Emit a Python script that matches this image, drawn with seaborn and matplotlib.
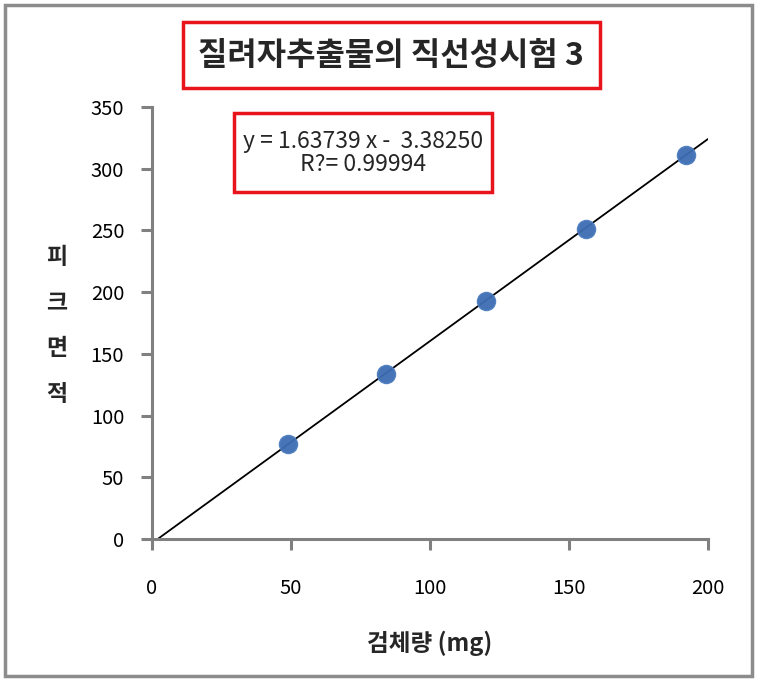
import numpy as np
import pandas as pd
import matplotlib
matplotlib.use("Agg")
import matplotlib.pyplot as plt
from matplotlib.patches import Rectangle
import seaborn as sns

sns.set_style("white")
plt.rcParams['font.family'] = ['Noto Sans CJK KR', 'DejaVu Sans']

# Data
sample_mg = [49, 84, 120, 156, 192]
peak_area = [77, 134, 193, 251, 311]
slope = 1.63739
intercept = -3.38250
r2 = 0.99994
x_ticks = [0, 50, 100, 150, 200]
y_ticks = [0, 50, 100, 150, 200, 250, 300, 350]
title = "질려자추출물의 직선성시험 3"
xlabel = "검체량 (mg)"
ylabel = "피\n크\n면\n적"

df = pd.DataFrame({"x": sample_mg, "y": peak_area})
x0 = -intercept / slope
line_df = pd.DataFrame({"x": [x0, 200], "y": [slope * x0 + intercept, slope * 200 + intercept]})

fig = plt.figure(figsize=(7.59, 6.81), dpi=100)
ax = fig.add_axes([152/759, 1 - 539/681, (708-152)/759, (539-107)/681])

sns.lineplot(data=line_df, x="x", y="y", ax=ax, color="black", linewidth=1.3, zorder=2)
sns.scatterplot(data=df, x="x", y="y", ax=ax, color="#3d6db2", s=170, edgecolor="#4f7fc0",
                linewidth=1, zorder=3, alpha=0.95)

ax.set_xlim(0, 200)
ax.set_ylim(0, 350)
ax.set_xticks(x_ticks)
ax.set_yticks(y_ticks)
ax.set_xlabel("")
ax.set_ylabel("")
for s in ["top", "right"]:
    ax.spines[s].set_visible(False)
for s in ["left", "bottom"]:
    ax.spines[s].set_color("#808080")
    ax.spines[s].set_linewidth(2.2)
ax.tick_params(axis="both", which="major", direction="out", length=8, width=2.2, color="#808080",
               labelsize=14.5, labelcolor="black", left=True, bottom=True)
ax.tick_params(axis="x", pad=20)
ax.tick_params(axis="y", pad=12)

# Title box
fig.patches.append(Rectangle((183/759, 1-88/681), (600-183)/759, (88-22)/681,
                             transform=fig.transFigure, fill=False, edgecolor="#e8141c", linewidth=2.5))
fig.text(391/759, 1-56/681, title, ha="center", va="center", fontsize=23, fontweight="bold")

# Equation box
fig.patches.append(Rectangle((234/759, 1-192/681), (492-234)/759, (192-113)/681,
                             transform=fig.transFigure, fill=False, edgecolor="#e8141c", linewidth=2.5))
fig.text(363/759, 1-153/681, f"y = {slope:.5f} x -  {abs(intercept):.5f}\nR?= {r2:.5f}",
         ha="center", va="center", fontsize=16.5, linespacing=1.05)

# Axis labels
fig.text(57/759, 1-326/681, ylabel, ha="center", va="center", fontsize=16.5, fontweight="bold",
         linespacing=2.25)
fig.text(430/759, 1-643/681, xlabel, ha="center", va="center", fontsize=17, fontweight="bold")

# Outer border
fig.patches.append(Rectangle((5/759, 5/681), (752-5)/759, (676-5)/681,
                             transform=fig.transFigure, fill=False, edgecolor="#8c8c8c", linewidth=2.5))

fig.savefig("out.png", dpi=100)
